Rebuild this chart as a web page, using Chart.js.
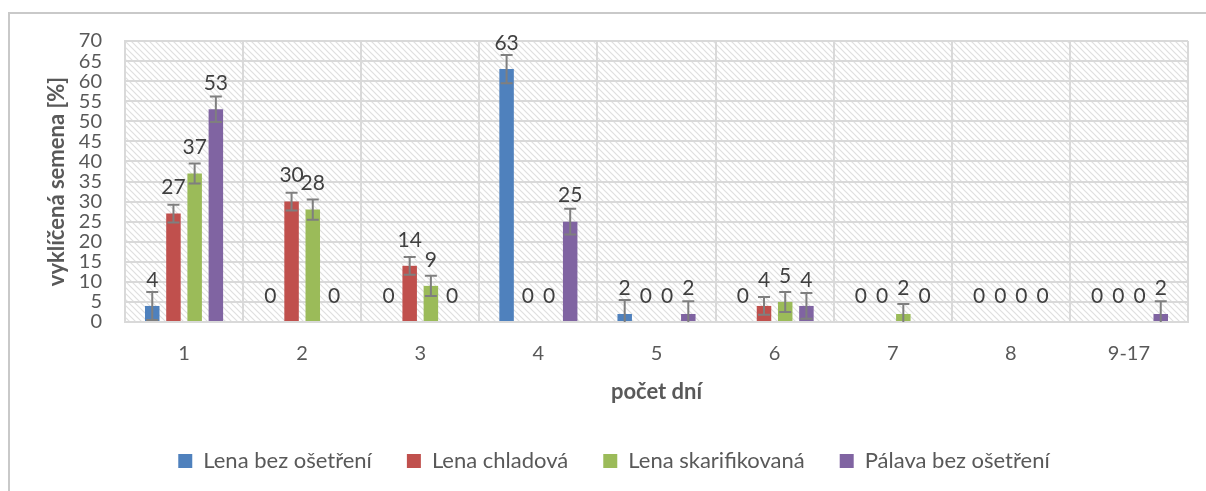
<!DOCTYPE html>
<html>
<head>
<meta charset="utf-8">
<script src="https://cdn.jsdelivr.net/npm/chart.js@4.4.1/dist/chart.umd.min.js"></script>
<style>
  html, body { margin: 0; padding: 0; background: #ffffff; }
  #wrap { position: relative; width: 1206px; height: 491px; overflow: hidden; }
  #frame { position: absolute; left: 8px; top: 12px; width: 1300px; height: 600px;
           border: 2px solid #c9c9c9; box-sizing: border-box; }
  #c { position: absolute; left: 0; top: 0; }
</style>
</head>
<body>
<div id="wrap">
  <div id="frame"></div>
  <canvas id="c" width="1206" height="491"></canvas>
</div>
<script>
// počet dní do vyklíčení
const categories = ['1', '2', '3', '4', '5', '6', '7', '8', '9-17'];
const seriesNames = ['Lena bez ošetření', 'Lena chladová', 'Lena skarifikovaná', 'Pálava bez ošetření'];
const seriesColors = ['#4f81bd', '#c0504d', '#9bbb59', '#8064a2'];

// vyklíčená semena [%]
const lenaBez      = [4, 0, 0, 63, 2, 0, 0, 0, 0];
const lenaChladova = [27, 30, 14, 0, 0, 4, 0, 0, 0];
const lenaSkarif   = [37, 28, 9, 0, 0, 5, 2, 0, 0];
const palavaBez    = [53, 0, 0, 25, 2, 4, 0, 0, 2];

// směrodatné odchylky (chybové úsečky)
const errLenaBez      = [3.5, 0, 0, 3.5, 3.5, 0, 0, 0, 0];
const errLenaChladova = [2.2, 2.2, 2.2, 0, 0, 2.2, 0, 0, 0];
const errLenaSkarif   = [2.5, 2.5, 2.5, 0, 0, 2.5, 2.5, 0, 0];
const errPalavaBez    = [3.2, 0, 0, 3.2, 3.2, 3.2, 0, 0, 3.2];

const yMin = 0, yMax = 70, yStep = 5;

const seriesValues = [lenaBez, lenaChladova, lenaSkarif, palavaBez];
const seriesErrors = [errLenaBez, errLenaChladova, errLenaSkarif, errPalavaBez];

const FONT = 'Lato, "Open Sans", sans-serif';
const TEXT = '#595959';

// diagonal hatch fill of the plot area
function makeHatch() {
  const t = document.createElement('canvas');
  t.width = 6; t.height = 6;
  const g = t.getContext('2d');
  g.fillStyle = '#ffffff';
  g.fillRect(0, 0, 6, 6);
  g.strokeStyle = '#dfdfdf';
  g.lineWidth = 1.2;
  g.beginPath();
  g.moveTo(-1, -1); g.lineTo(7, 7);
  g.moveTo(5, -1); g.lineTo(7, 1);
  g.moveTo(-1, 5); g.lineTo(1, 7);
  g.stroke();
  return t;
}

const hatchPlugin = {
  id: 'hatch',
  beforeDraw(chart) {
    const {ctx, chartArea: a} = chart;
    ctx.save();
    ctx.fillStyle = ctx.createPattern(makeHatch(), 'repeat');
    ctx.fillRect(a.left, a.top, a.right - a.left, a.bottom - a.top);
    ctx.restore();
  }
};

// shifts the legend to sit under the middle of the plot
const legendShift = {
  id: 'legendShift',
  afterLayout(chart) {
    const lg = chart.legend;
    if (lg) { lg.left += 20; lg.right += 20; }
  }
};

// error bars and value labels
const barExtras = {
  id: 'barExtras',
  afterDatasetsDraw(chart) {
    const {ctx, chartArea: a} = chart;
    const y = chart.scales.y;
    chart.data.datasets.forEach((ds, di) => {
      const meta = chart.getDatasetMeta(di);
      const errs = seriesErrors[di];
      meta.data.forEach((bar, i) => {
        const v = ds.data[i];
        const e = errs[i];
        if (e > 0) {
          const top = y.getPixelForValue(v + e);
          const bot = Math.min(y.getPixelForValue(v - e), a.bottom);
          ctx.save();
          ctx.strokeStyle = '#7f7f7f';
          ctx.lineWidth = 2;
          ctx.beginPath();
          ctx.moveTo(bar.x, top); ctx.lineTo(bar.x, bot);
          ctx.moveTo(bar.x - 6, top); ctx.lineTo(bar.x + 6, top);
          if (v - e >= yMin) { ctx.moveTo(bar.x - 6, bot); ctx.lineTo(bar.x + 6, bot); }
          ctx.stroke();
          ctx.restore();
        }
        ctx.save();
        ctx.fillStyle = '#404040';
        ctx.font = '21px ' + FONT;
        ctx.textAlign = 'center';
        ctx.textBaseline = 'middle';
        ctx.fillText(String(v), bar.x, y.getPixelForValue(v) - 26);
        ctx.restore();
      });
    });
  }
};

new Chart(document.getElementById('c'), {
  type: 'bar',
  data: {
    labels: categories,
    datasets: seriesNames.map((name, k) => ({
      label: name,
      data: seriesValues[k],
      backgroundColor: seriesColors[k],
      borderWidth: 0,
      categoryPercentage: 0.718,
      barPercentage: 0.684
    }))
  },
  options: {
    responsive: false,
    animation: false,
    devicePixelRatio: 1,
    layout: { padding: { top: 41, right: 18, left: 0, bottom: 9 } },
    plugins: {
      tooltip: { enabled: false },
      legend: {
        position: 'bottom',
        labels: {
          color: TEXT,
          font: { family: FONT, size: 22 },
          boxWidth: 14,
          boxHeight: 14,
          padding: 35
        }
      }
    },
    scales: {
      x: {
        grid: { color: '#d9d9d9', lineWidth: 2, drawTicks: false, offset: true },
        border: { color: '#d9d9d9', width: 2 },
        ticks: { color: TEXT, font: { family: FONT, size: 20 }, padding: 20 },
        title: {
          display: true, text: 'počet dní', color: TEXT,
          font: { family: FONT, size: 22, weight: 'bold' },
          padding: { top: 0, bottom: 10 }
        },
        afterFit(s) { s.height = 93; }
      },
      y: {
        min: yMin, max: yMax,
        grid: { color: '#d9d9d9', lineWidth: 2, drawTicks: false },
        border: { color: '#d9d9d9', width: 2 },
        ticks: { stepSize: yStep, autoSkip: false, color: TEXT, font: { family: FONT, size: 20 }, padding: 23 },
        title: {
          display: true, text: 'vyklíčená semena [%]', color: TEXT,
          font: { family: FONT, size: 22, weight: 'bold' },
          padding: { top: 44, bottom: 0 }
        },
        afterFit(s) { s.width = 125; }
      }
    }
  },
  plugins: [hatchPlugin, legendShift, barExtras]
});
</script>
</body>
</html>
